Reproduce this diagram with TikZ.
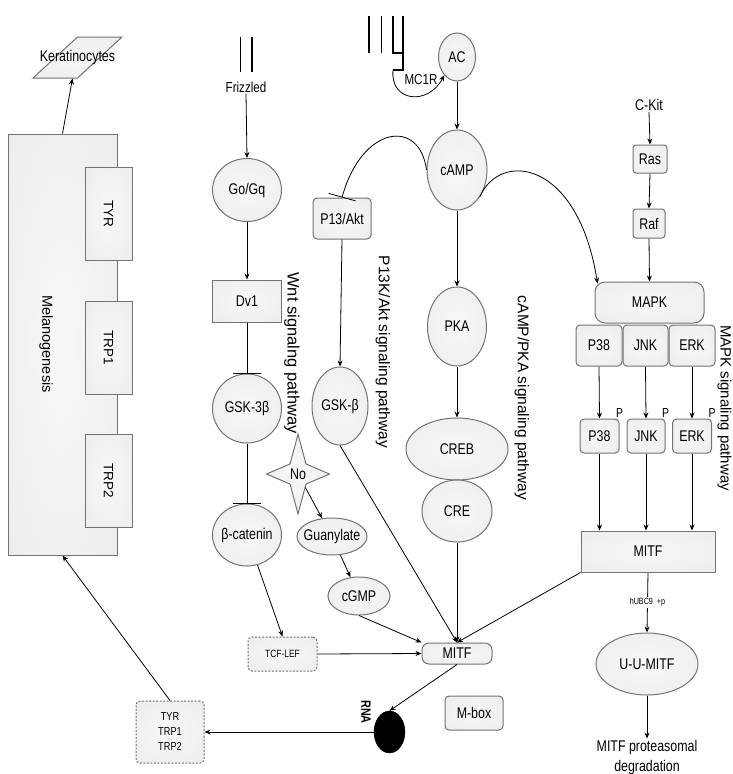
\documentclass[tikz,border=0pt]{standalone}
\usepackage{fontspec}
\setmainfont{Liberation Sans}[FakeStretch=0.8]
\newfontfamily\widefont{Liberation Sans}
\usetikzlibrary{shapes.geometric,arrows.meta}
\pgfdeclareradialshading{soft}{\pgfpoint{0bp}{0bp}}{color(0bp)=(black!3); color(34bp)=(black!7); color(50bp)=(black!28); color(60bp)=(black!28)}
\newcommand\zw[1]{\makebox[0pt]{#1}}
\tikzset{
  nd/.style={draw=black!55, line width=1pt, shade, shading=soft, inner sep=1pt, font=\fontsize{15.5}{17}\selectfont},
  el/.style={nd, ellipse},
  bx/.style={nd, rectangle},
  rbx/.style={nd, rectangle, rounded corners=4pt},
  dbx/.style={rbx, dash pattern=on 2pt off 1.5pt},
  arr/.style={-{Stealth[length=6pt,width=5pt]}, line width=0.8pt},
  inh/.style={-{Bar[width=28pt]}, line width=0.8pt},
  lbl/.style={font=\widefont\fontsize{15.5}{18}\selectfont, rotate=-90, inner sep=0pt},
  txt/.style={font=\fontsize{15.5}{17}\selectfont, inner sep=1pt},
  plbl/.style={font=\fontsize{13}{14}\selectfont, inner sep=0.5pt, anchor=south},
  rec/.style={line width=1.6pt},
}
\begin{document}
\begin{tikzpicture}[x=1pt,y=-1pt]
\path[fill=white] (0,0) rectangle (732,774);
\useasboundingbox (0,0) rectangle (732,774);

% ---- melanogenesis block
\node[bx, minimum width=109pt, minimum height=421pt] (mel) at (62.5,344.5) {};
\node[lbl, font=\widefont\fontsize{14.5}{16}\selectfont] (meltxt) at (46,344) {Melanogenesis};
\node[bx, minimum width=47pt, minimum height=93pt, font=\widefont\fontsize{13.5}{15}\selectfont] (tyr) at (108.5,213.5) {\rotatebox{-90}{TYR}};
\node[bx, minimum width=47pt, minimum height=93pt, font=\widefont\fontsize{13.5}{15}\selectfont] (trp1) at (108.5,347.5) {\rotatebox{-90}{TRP1}};
\node[bx, minimum width=47pt, minimum height=93pt, font=\widefont\fontsize{13.5}{15}\selectfont] (trp2) at (108.5,480.5) {\rotatebox{-90}{TRP2}};
\node[nd, trapezium, trapezium left angle=76, trapezium right angle=104, trapezium stretches=true, minimum width=89pt, minimum height=41pt, inner sep=0pt] (ker) at (77.5,57.5) {\zw{Keratinocytes}};

% ---- Wnt pathway
\draw[rec] (240.5,37) -- (240.5,72);
\draw[rec] (252,37) -- (252,72);
\node[txt, font=\fontsize{14.5}{16}\selectfont] (friz) at (246,87) {Frizzled};
\node[el, minimum width=69pt, minimum height=63pt] (gogq) at (247,190) {\zw{Go/Gq}};
\node[bx, minimum width=69pt, minimum height=42pt] (dv1) at (247,301) {Dv1};
\node[el, minimum width=69pt, minimum height=69pt] (gsk3) at (247,408.5) {\zw{GSK-3β}};
\node[el, minimum width=69pt, minimum height=62pt] (bcat) at (247,535) {\zw{β-catenin}};
\node[dbx, minimum width=69pt, minimum height=34pt, font=\fontsize{10.5}{12}\selectfont] (tcf) at (282.5,654) {TCF-LEF};
\node[lbl, font=\widefont\fontsize{16.5}{18}\selectfont] (wntl) at (292,353) {Wnt signalng pathway};

% ---- NO star
\begin{scope}[shift={(298,474)}, xscale=0.79]
\node[nd, star, star points=4, star point ratio=2.8, minimum size=76pt, inner sep=0pt, transform shape] (no) at (0,0) {\scalebox{1.27}[1]{No}};
\end{scope}
\node[el, minimum width=70pt, minimum height=37pt] (guan) at (332,536.5) {\zw{Guanylate}};
\node[el, minimum width=62pt, minimum height=38pt] (cgmp) at (359,596) {\zw{cGMP}};

% ---- PI3K pathway
\node[rbx, minimum width=58pt, minimum height=41pt] (p13) at (342,218.5) {P13/Akt};
\node[el, minimum width=56pt, minimum height=78pt] (gskb) at (340,406) {\zw{GSK-β}};
\node[lbl] (pi3kl) at (383,352) {P13K/Akt signaling pathway};

% ---- cAMP pathway
\draw[rec] (369,16) -- (369,53);
\draw[rec] (381.5,16) -- (381.5,53);
\draw[rec] (393,16) -- (393,53) -- (403,53);
\draw[rec] (403,16) -- (403,70) -- (393,70);
\coordinate (rc) at (393,70);
\node[txt, font=\fontsize{14.5}{16}\selectfont] (mc1r) at (421,80) {MC1R};
\node[el, minimum width=37pt, minimum height=48pt] (ac) at (457,57) {\zw{AC}};
\node[el, minimum width=60pt, minimum height=80pt] (camp) at (457,170) {\zw{cAMP}};
\node[el, minimum width=59pt, minimum height=79pt] (pka) at (457,326.5) {\zw{PKA}};
\node[el, minimum width=102pt, minimum height=62pt] (creb) at (457,449) {\zw{CREB}};
\node[el, minimum width=70pt, minimum height=62pt] (cre) at (457,511) {\zw{CRE}};
\node[lbl] (campl) at (522,398) {cAMP/PKA signaling pathway};

% ---- MAPK pathway
\node[txt] (ckit) at (649,105) {C-Kit};
\node[rbx, rounded corners=3pt, minimum width=34pt, minimum height=28pt] (ras) at (650,159) {Ras};
\node[rbx, rounded corners=3pt, minimum width=32pt, minimum height=29pt] (raf) at (649,223.5) {Raf};
\node[rbx, rounded corners=10pt, minimum width=109pt, minimum height=41pt] (mapk) at (649.5,302.5) {MAPK};
\node[rbx, minimum width=46pt, minimum height=41pt] (p38) at (599,345.5) {P38};
\node[rbx, minimum width=45pt, minimum height=41pt] (jnk) at (645.5,345.5) {JNK};
\node[rbx, minimum width=46pt, minimum height=41pt] (erk) at (692,345.5) {ERK};
\node[rbx, minimum width=39pt, minimum height=34pt, label={[plbl]north east:P}] (p38b) at (599.5,436) {P38};
\node[rbx, minimum width=38pt, minimum height=34pt, label={[plbl]north east:P}] (jnkb) at (646,436) {JNK};
\node[rbx, minimum width=39pt, minimum height=34pt, label={[plbl]north east:P}] (erkb) at (692,436) {ERK};
\node[bx, minimum width=134pt, minimum height=41pt] (mitf1) at (648,551.5) {MITF};
\node[el, minimum width=102pt, minimum height=62pt] (uu) at (647,664) {\zw{U-U-MITF}};
\node[txt, align=center, font=\fontsize{15.5}{20}\selectfont] (deg) at (647,757) {MITF proteasomal\\degradation};
\node[lbl, font=\widefont\fontsize{15}{18}\selectfont] (mapkl) at (724.5,408) {MAPK signaling pathway};

% ---- lower part
\node[rbx, rounded corners=7pt, minimum width=70pt, minimum height=21pt] (mitf2) at (457,653.5) {MITF};
\node[ellipse, fill=black, draw=black, minimum width=31pt, minimum height=42pt] (rna) at (389.5,732) {};
\node[inner sep=0pt, rotate=-90, font=\bfseries\fontsize{13.5}{15}\selectfont] (rnal) at (366,712) {RNA};
\node[dbx, minimum width=68pt, minimum height=62pt, align=center, font=\fontsize{11.5}{15}\selectfont] (tyrbox) at (170,732) {TYR\\TRP1\\TRP2};
\node[rbx, minimum width=58pt, minimum height=34pt] (mbox) at (474,713) {M-box};

% ---- connectors
\draw[arr] (mel.north) -- ([xshift=-5pt]ker.south);
\draw[arr] (tyrbox.north) -- (mel.south);
\draw[arr] (friz.south) -- (gogq.north);
\draw[arr] (gogq.south) -- (dv1.north);
\draw[inh] (dv1.south) -- (gsk3.north);
\draw[inh] (gsk3.south) -- (bcat.north);
\draw[arr] (bcat) -- (tcf.north);
\draw[arr] (tcf.east) -- (mitf2.west);
\draw[arr] (no) -- (guan);
\draw[arr] (guan) -- (cgmp);
\draw[arr] (cgmp.south) -- (mitf2.north west);
\draw[inh] (camp.west) .. controls (420,118) and (362,125) .. (p13.north);
\draw[arr] (p13.south) -- (gskb.north);
\draw[arr] (gskb.south) -- (mitf2.north);
\draw[arr] (rc) .. controls (390,102) and (428,106) .. (ac.235);
\draw[arr] (ac.south) -- (camp.north);
\draw[arr] (camp.south) -- (pka.north);
\draw[arr] (pka.south) -- (creb.north);
\draw[arr] (cre.south) -- (mitf2.north);
\draw[arr] (camp.-50) .. controls (500,150) and (578,160) .. ([xshift=3pt,yshift=-2pt]mapk.north west);
\draw[arr] (ckit.south) -- (ras.north);
\draw[arr] (ras.south) -- (raf.north);
\draw[arr] (raf.south) -- (mapk.north);
\draw[arr] (p38.south) -- (p38b.north);
\draw[arr] (jnk.south) -- (jnkb.north);
\draw[arr] (erk.south) -- (erkb.north);
\draw[arr] (p38b.south) -- (p38b.south |- mitf1.north);
\draw[arr] (jnkb.south) -- (jnkb.south |- mitf1.north);
\draw[arr] (erkb.south) -- (erkb.south |- mitf1.north);
\draw[arr] (mitf1.south west) -- (mitf2.north);
\draw[arr] (mitf1.south) -- node[fill=white, inner sep=1pt, font=\fontsize{9}{10}\selectfont] {hUBC9\ \ +p} (uu.north);
\draw[arr] (uu.south) -- (deg.north);
\draw[arr] (mitf2.south) -- (rna.north);
\draw[arr] (rna.west) -- (tyrbox.east);
\end{tikzpicture}
\end{document}
